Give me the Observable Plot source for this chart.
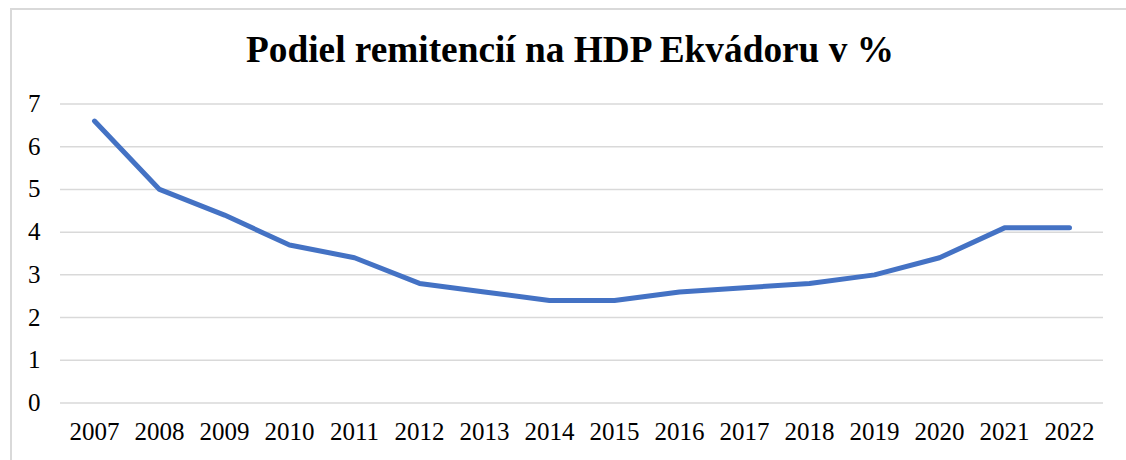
<!DOCTYPE html>
<html>
<head>
<meta charset="utf-8">
<script src="https://cdn.jsdelivr.net/npm/d3@7"></script>
<script src="https://cdn.jsdelivr.net/npm/@observablehq/plot@0.6"></script>
<style>
  html, body { margin: 0; padding: 0; background: #fff; overflow: hidden; }
  #wrap { position: relative; width: 1126px; height: 460px; overflow: hidden; }
  #frame { position: absolute; left: 10px; top: 8px; width: 1140px; height: 480px; border: 2px solid #d9d9d9; box-sizing: border-box; }
  #title { position: absolute; left: 0; top: 0; width: 1140px; height: 90px; text-align: center;
           font-family: "Liberation Serif", "Times New Roman", serif; font-weight: bold; font-size: 37.3px;
           line-height: 37px; padding-top: 31px; box-sizing: border-box; color: #000; }
  #chart { position: absolute; left: 0; top: 90px; }
  #chart svg, #chart svg text { font-family: "Liberation Serif", "Times New Roman", serif !important; }
</style>
</head>
<body>
<div id="wrap">
  <div id="frame"></div>
  <div id="title">Podiel remitencií na HDP Ekvádoru v %</div>
  <div id="chart"></div>
</div>
<script>
const years = ["2007","2008","2009","2010","2011","2012","2013","2014","2015","2016","2017","2018","2019","2020","2021","2022"];
const shares = [6.6, 5.0, 4.4, 3.7, 3.4, 2.8, 2.6, 2.4, 2.4, 2.6, 2.7, 2.8, 3.0, 3.4, 4.1, 4.1];
const yTicks = [0, 1, 2, 3, 4, 5, 6, 7];

const data = years.map((y, i) => ({year: y, value: shares[i]}));
const serif = "Liberation Serif, Times New Roman, serif";

const chart = Plot.plot({
  width: 1126,
  height: 370,
  marginLeft: 60,
  marginRight: 23,
  marginTop: 13.5,
  marginBottom: 57.5,
  style: {fontFamily: serif, fontSize: "25px", color: "#000", background: "transparent"},
  x: {type: "point", domain: years, padding: 0.5, label: null},
  y: {domain: [0, 7], label: null},
  marks: [
    Plot.ruleY(yTicks, {stroke: "#d9d9d9", strokeWidth: 1.5}),
    Plot.axisY(yTicks, {tickSize: 0, tickPadding: 20, fontSize: 25, fontFamily: serif, label: null}),
    Plot.axisX({tickSize: 0, tickPadding: 19.5, fontSize: 25, fontFamily: serif, label: null}),
    Plot.line(data, {x: "year", y: "value", stroke: "#4472C4", strokeWidth: 5, strokeLinecap: "round", strokeLinejoin: "round"})
  ]
});
document.getElementById("chart").appendChild(chart);
</script>
</body>
</html>
